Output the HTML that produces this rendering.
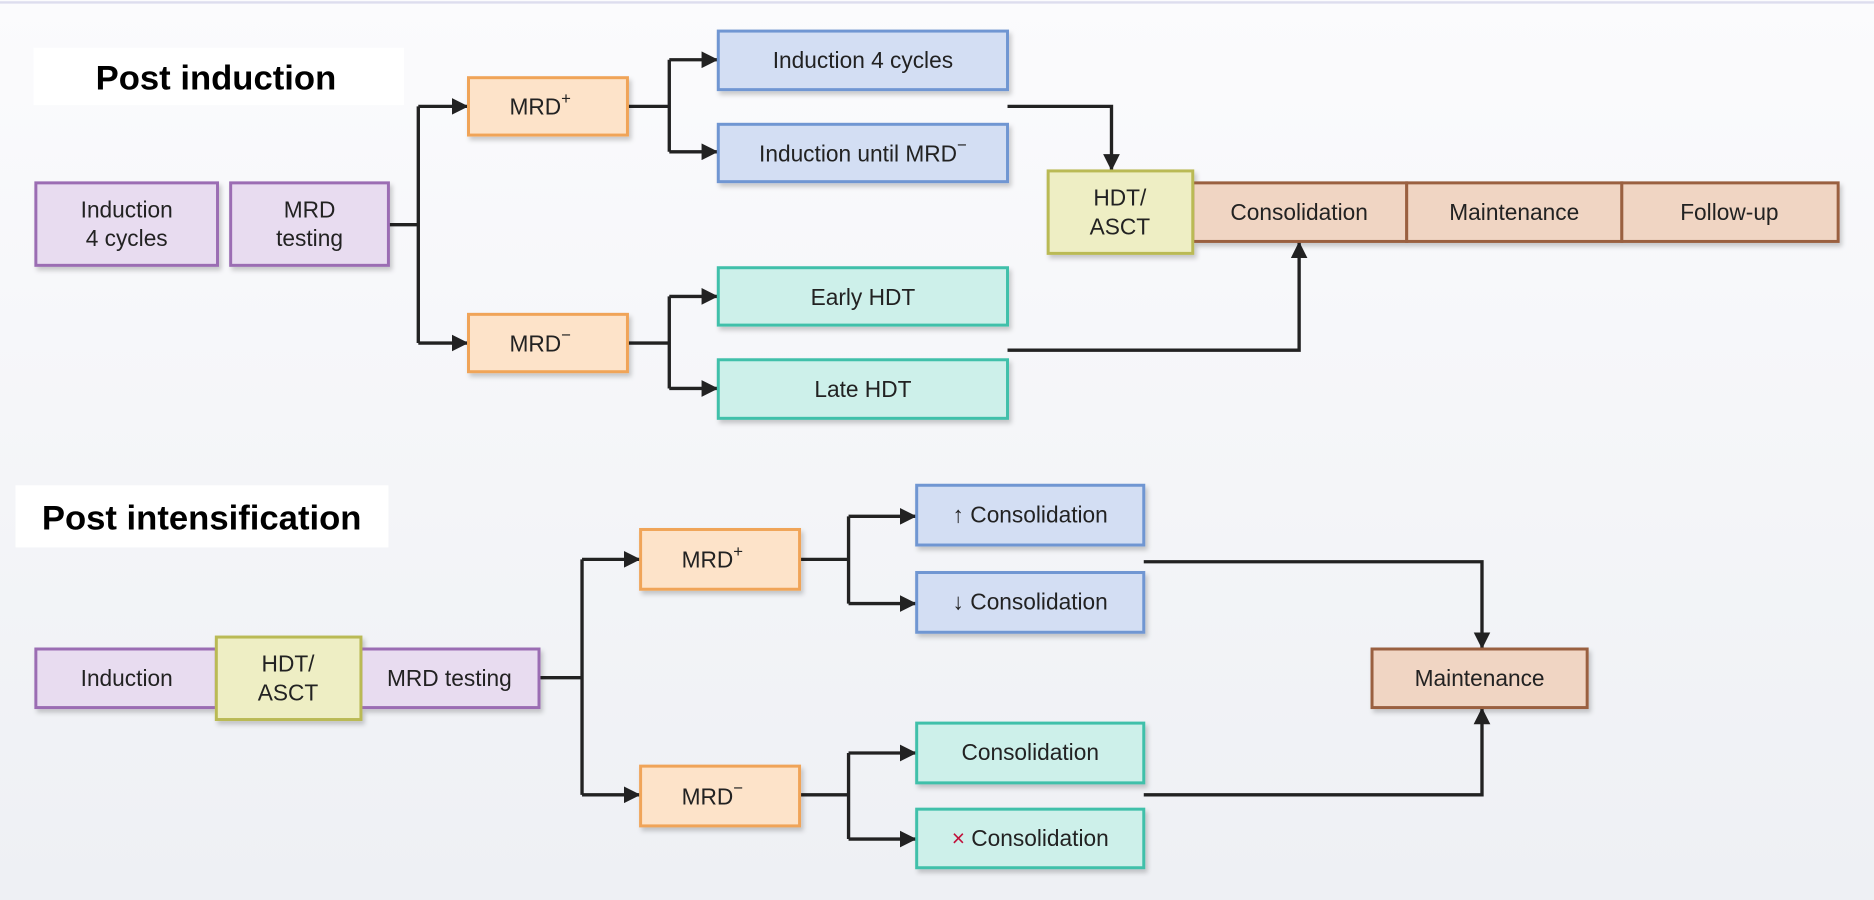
<!DOCTYPE html>
<html><head><meta charset="utf-8"><style>html,body{margin:0;padding:0;background:#f5f6f9}svg{display:block}</style></head>
<body>
<svg width="1874" height="900" viewBox="0 0 1568 753" preserveAspectRatio="none" xmlns="http://www.w3.org/2000/svg" font-family="Liberation Sans, sans-serif">
<defs>
<marker id="a" markerWidth="14" markerHeight="14" refX="13" refY="7" orient="auto" markerUnits="userSpaceOnUse"><path d="M0,0 L14,7 L0,14 z" fill="#222"/></marker>
<linearGradient id="bg" x1="0" y1="0" x2="0" y2="1"><stop offset="0" stop-color="#fbfbfd"/><stop offset="1" stop-color="#eef0f4"/></linearGradient>
<filter id="sh" x="-10%" y="-10%" width="130%" height="140%"><feDropShadow dx="2" dy="3" stdDeviation="2" flood-color="#000" flood-opacity="0.2"/></filter>
</defs>
<rect width="1568" height="753" fill="url(#bg)"/>
<line x1="0" y1="2" x2="1568" y2="2" stroke="#dde" stroke-width="2"/>
<rect x="28" y="40" width="310" height="48" fill="#fff"/>
<text x="80" y="75" font-size="29" font-weight="bold">Post induction</text>
<rect x="13" y="406" width="312" height="52" fill="#fff"/>
<text x="35" y="443" font-size="29" font-weight="bold">Post intensification</text>
<g stroke="#222" stroke-width="2.8" fill="none">
<path d="M325,188H350M350,89V287"/>
<path d="M350,89H391" marker-end="url(#a)"/><path d="M350,287H391" marker-end="url(#a)"/>
<path d="M525,89H560M560,50V127M525,287H560M560,248V325"/>
<path d="M560,50H600" marker-end="url(#a)"/><path d="M560,127H600" marker-end="url(#a)"/>
<path d="M560,248H600" marker-end="url(#a)"/><path d="M560,325H600" marker-end="url(#a)"/>
<path d="M843,89H930V142" marker-end="url(#a)"/>
<path d="M843,293H1087V203" marker-end="url(#a)"/>
<path d="M451,567H487M487,468V665"/>
<path d="M487,468H535" marker-end="url(#a)"/><path d="M487,665H535" marker-end="url(#a)"/>
<path d="M669,468H710M710,432V505M669,665H710M710,630V702"/>
<path d="M710,432H766" marker-end="url(#a)"/><path d="M710,505H766" marker-end="url(#a)"/>
<path d="M710,630H766" marker-end="url(#a)"/><path d="M710,702H766" marker-end="url(#a)"/>
<path d="M957,470H1240V542" marker-end="url(#a)"/>
<path d="M957,665H1240V593" marker-end="url(#a)"/>
</g>
<g stroke-width="2.5" filter="url(#sh)">
<rect x="30" y="153" width="152" height="69" fill="#e8dcf0" stroke="#9b6db3"/>
<rect x="193" y="153" width="132" height="69" fill="#e8dcf0" stroke="#9b6db3"/>
<rect x="392" y="65" width="133" height="48" fill="#fde3c9" stroke="#f0a458"/>
<rect x="392" y="263" width="133" height="48" fill="#fde3c9" stroke="#f0a458"/>
<rect x="601" y="26" width="242" height="49" fill="#d3def3" stroke="#6f96d2"/>
<rect x="601" y="104" width="242" height="48" fill="#d3def3" stroke="#6f96d2"/>
<rect x="601" y="224" width="242" height="48" fill="#cdf0ea" stroke="#40c0aa"/>
<rect x="601" y="301" width="242" height="49" fill="#cdf0ea" stroke="#40c0aa"/>
<rect x="998" y="153" width="179" height="49" fill="#f0d5c3" stroke="#9a6040"/>
<rect x="1177" y="153" width="180" height="49" fill="#f0d5c3" stroke="#9a6040"/>
<rect x="1357" y="153" width="181" height="49" fill="#f0d5c3" stroke="#9a6040"/>
<rect x="877" y="143" width="121" height="69" fill="#eeeec4" stroke="#baba55"/>
<rect x="30" y="543" width="151" height="49" fill="#e8dcf0" stroke="#9b6db3"/>
<rect x="302" y="543" width="149" height="49" fill="#e8dcf0" stroke="#9b6db3"/>
<rect x="181" y="533" width="121" height="69" fill="#eeeec4" stroke="#baba55"/>
<rect x="536" y="443" width="133" height="50" fill="#fde3c9" stroke="#f0a458"/>
<rect x="536" y="641" width="133" height="50" fill="#fde3c9" stroke="#f0a458"/>
<rect x="767" y="406" width="190" height="50" fill="#d3def3" stroke="#6f96d2"/>
<rect x="767" y="479" width="190" height="50" fill="#d3def3" stroke="#6f96d2"/>
<rect x="767" y="605" width="190" height="50" fill="#cdf0ea" stroke="#40c0aa"/>
<rect x="767" y="677" width="190" height="49" fill="#cdf0ea" stroke="#40c0aa"/>
<rect x="1148" y="543" width="180" height="49" fill="#f0d5c3" stroke="#9a6040"/>
</g>
<g font-size="19" fill="#222" text-anchor="middle">
<text x="106" y="182">Induction</text><text x="106" y="206">4 cycles</text>
<text x="259" y="182">MRD</text><text x="259" y="206">testing</text>
<text x="452" y="96">MRD<tspan font-size="14" dy="-9">+</tspan></text>
<text x="452" y="294">MRD<tspan font-size="14" dy="-9">−</tspan></text>
<text x="722" y="57">Induction 4 cycles</text>
<text x="722" y="135">Induction until MRD<tspan font-size="14" dy="-9">−</tspan></text>
<text x="722" y="255">Early HDT</text>
<text x="722" y="332">Late HDT</text>
<text x="937" y="172">HDT/</text><text x="937" y="196">ASCT</text>
<text x="1087" y="184">Consolidation</text>
<text x="1267" y="184">Maintenance</text>
<text x="1447" y="184">Follow-up</text>
<text x="106" y="574">Induction</text>
<text x="241" y="562">HDT/</text><text x="241" y="586">ASCT</text>
<text x="376" y="574">MRD testing</text>
<text x="596" y="475">MRD<tspan font-size="14" dy="-9">+</tspan></text>
<text x="596" y="673">MRD<tspan font-size="14" dy="-9">−</tspan></text>
<text x="862" y="437">↑ Consolidation</text>
<text x="862" y="510">↓ Consolidation</text>
<text x="862" y="636">Consolidation</text>
<text x="862" y="708"><tspan fill="#c0103a">×</tspan> Consolidation</text>
<text x="1238" y="574">Maintenance</text>
</g>
</svg>
</body></html>
